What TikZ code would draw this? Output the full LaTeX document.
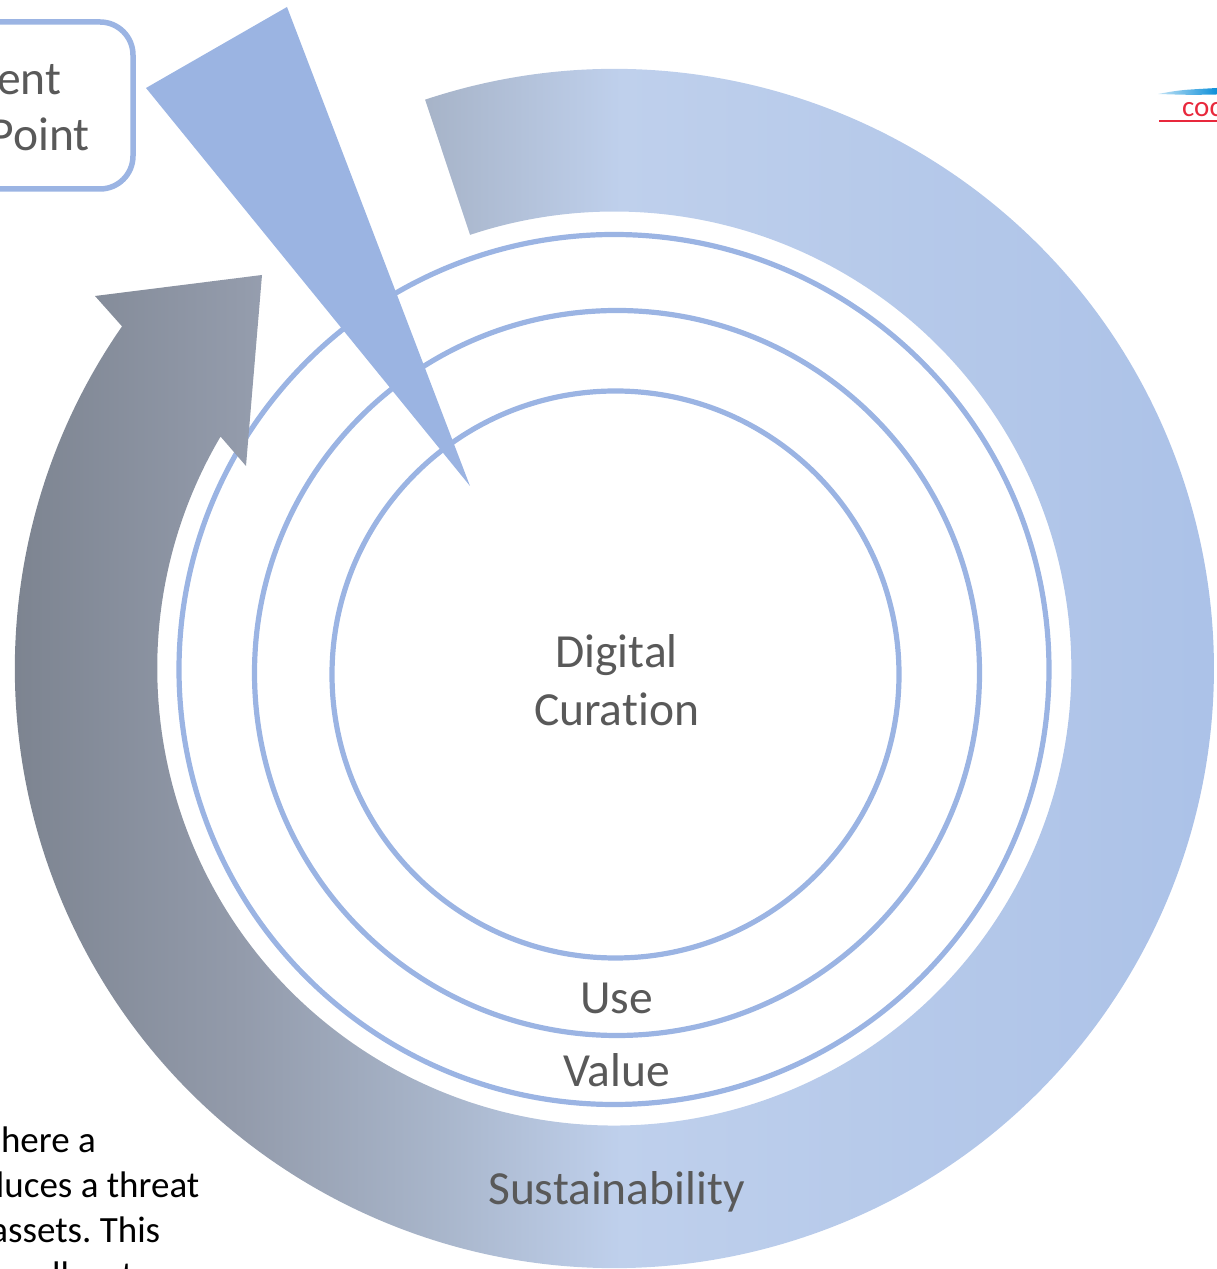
\documentclass[tikz,border=0pt]{standalone}
\usepackage{fontspec}
\setmainfont[Ligatures=NoCommon]{Carlito}
\frenchspacing
\definecolor{ringblue}{HTML}{9BB4E3}
\definecolor{wedgeblue}{HTML}{9BB4E2}
\definecolor{labelgrey}{HTML}{595959}
\definecolor{logored}{HTML}{E8283C}
\definecolor{logoblue}{HTML}{0C8FD9}
\definecolor{sA}{HTML}{7A818D}
\definecolor{sB}{HTML}{939BAB}
\definecolor{sC}{HTML}{A8B5CA}
\definecolor{sD}{HTML}{BFD0EC}
\definecolor{sE}{HTML}{A9C0E7}
\pgfdeclarehorizontalshading{ringshade}{100bp}{
 color(0bp)=(sA); color(25bp)=(sA); color(34.8bp)=(sB); color(42.3bp)=(sC); color(49.4bp)=(sD); color(75bp)=(sE); color(100bp)=(sE)}
\tikzset{
 x=1pt,y=1pt,
 ringline/.style={draw=ringblue,line width=5.2pt},
 biglabel/.style={font=\fontsize{47.5}{50}\selectfont,text=labelgrey,anchor=base,inner sep=0pt},
 bodytext/.style={font=\fontsize{37}{40}\selectfont,text=black,anchor=base east,inner sep=0pt},
}
\begin{document}
\begin{tikzpicture}
\useasboundingbox (0,0) rectangle (1217,1269);
\clip (0,0) rectangle (1217,1269);
\coordinate (c) at (614.3,600.5);
% rings
\node[circle,ringline,minimum size=870pt,inner sep=0pt] (ringValue) at (614,599.5) {};
\node[circle,ringline,minimum size=725pt,inner sep=0pt] (ringUse) at (617,596) {};
\node[circle,ringline,minimum size=567pt,inner sep=0pt] (ringCore) at (615.5,594.5) {};
% sustainability arrow
\shade[shading=ringshade]
 ([shift={(c)}]108.4:599.5) arc[start angle=108.4,end angle=-214.8,radius=599.5]
 -- (95,973) -- (262,994) -- (246,803)
 -- ([shift={(c)}]149.5:457) arc[start angle=-210.5,end angle=108.4,radius=457] -- cycle;
% wedge
\fill[wedgeblue] (287,1262) -- (146,1181) -- (470,783) -- cycle;
% entry box
\draw[draw=ringblue,line width=5.5pt,fill=white,rounded corners=33pt] (-80,1247) rectangle (133,1080);
\node[biglabel,anchor=base east] (entT) at (61.5,1174) {ent};
\node[biglabel,anchor=base east] (pointT) at (90,1118) {Point};
% labels
\node[biglabel] (digitalT) at (616.5,601) {Digital};
\node[biglabel] (curationT) at (616.5,543) {Curation};
\node[biglabel] (useT) at (616.5,255) {Use};
\node[biglabel] (valueT) at (616.5,182) {Value};
\node[biglabel] (sustT) at (616.5,64) {Sustainability};
% body text
\node[bodytext] (lineA) at (96,116) {here a};
\node[bodytext] (lineB) at (199.5,71) {luces a threat};
\node[bodytext] (lineC) at (160.5,26) {assets. This};
\node[bodytext] (lineD) at (152,-19) {allocate};
% logo
\shade[left color=logoblue!25,right color=logoblue] (1158,1175) .. controls (1180,1179) .. (1217,1181) -- (1217,1174.5) .. controls (1190,1174) .. (1158,1175);
\node[font=\fontsize{29}{30}\selectfont,text=logored,anchor=base west,inner sep=0pt] (logoT) at (1182,1152) {coc};
\fill[logored] (1159,1147) rectangle (1217,1149);
\end{tikzpicture}
\end{document}
